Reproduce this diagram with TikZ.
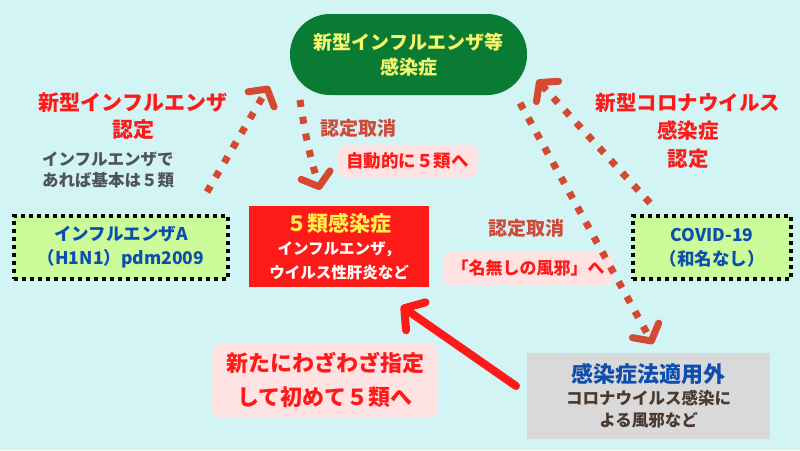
\documentclass[tikz,border=0pt]{standalone}
\usepackage{fontspec}
\setmainfont{Noto Sans CJK JP}
\usepackage{tikz}
\usetikzlibrary{arrows.meta,positioning}
\definecolor{Sky}{HTML}{D2F4F5}
\definecolor{Forest}{HTML}{0A7B32}
\definecolor{Lemon}{HTML}{F6F56B}
\definecolor{Sun}{HTML}{FFF04A}
\definecolor{Alarm}{HTML}{FF1A1A}
\definecolor{Slate}{HTML}{505358}
\definecolor{Navy}{HTML}{0D4EAE}
\definecolor{Lime}{HTML}{CCFC9A}
\definecolor{Blush}{HTML}{FFE3E3}
\definecolor{Brick}{HTML}{D04A3A}
\definecolor{Dots}{HTML}{D4492F}
\definecolor{Fog}{HTML}{D9D9D9}
\definecolor{Umber}{HTML}{4A3A30}
\newcommand{\fsz}[2]{\fontsize{#1}{#2}\selectfont}

\begin{document}
\begin{tikzpicture}[
  x=1pt,y=-1pt,
  every node/.style={font=\bfseries,align=center,inner sep=0pt},
  pill/.style={fill=Forest,text=Lemon,rounded corners=40pt,minimum width=237pt,minimum height=81pt,font=\bfseries\fsz{19}{25}},
  headline/.style={text=Alarm,font=\bfseries\fsz{21}{27.5}},
  revoke/.style={text=Brick,font=\bfseries\fsz{19}{24}},
  note/.style={text=Slate,align=left,font=\bfseries\fsz{16.5}{21}},
  dotbox/.style={fill=Lime,draw=black,line width=4pt,dash pattern=on 4pt off 4pt,text=Navy,minimum width=214pt,minimum height=63pt,font=\bfseries\fsz{17.5}{24}},
  redbox/.style={fill=Alarm,text=white,minimum width=180pt,minimum height=81pt,font=\bfseries\fsz{15.5}{23.5}},
  pinkbox/.style={fill=Blush,text=Alarm,rounded corners=8pt,minimum height=33pt,font=\bfseries\fsz{17.5}{24}},
  graybox/.style={fill=Fog,text=Umber,minimum width=243pt,minimum height=86pt,font=\bfseries\fsz{16.5}{22}},
  dotarr/.style={draw=Dots,line width=7pt,dash pattern=on 7pt off 10pt,-{Straight Barb[length=12pt,width=30pt,round]}},
  bigarr/.style={draw=Alarm,line width=8pt,line cap=round,-{Straight Barb[length=14pt,width=34pt,round]}}
]
\fill[Sky] (0,0) rectangle (800,450);
\useasboundingbox (0,0) rectangle (800,450);

% boxes
\node[pill] (flu) at (408.5,54.5) {新型インフルエンザ等\\感染症};
\node[redbox] (class5) at (339,246.5) {{\fsz{21}{24}\color{Sun}５類感染症}\\インフルエンザ，\\ウイルス性肝炎など};
\node[dotbox] (h1n1) at (121,247.5) {インフルエンザA\\（H1N1）pdm2009};
\node[dotbox,minimum width=158pt] (covid) at (712,247.5) {COVID-19\\（和名なし）};
\node[graybox] (outside) at (648.5,395.5) {{\fsz{22}{28}\color{Navy}感染症法適用外}\\コロナウイルス感染に\\よる風邪など};

% labels
\node[headline] (fluok) at (133,116) {新型インフルエンザ\\認定};
\node[note,anchor=west] (flunote) at (42,170) {インフルエンザで\\あれば基本は５類};
\node[headline,font=\bfseries\fsz{20.5}{28}] (covidok) at (688,131) {新型コロナウイルス\\感染症\\認定};
\node[revoke] (revoke1) at (358,128) {認定取消};
\node[pinkbox,minimum width=141pt] (auto5) at (407.5,161) {自動的に５類へ};
\node[revoke] (revoke2) at (526,228) {認定取消};
\node[pinkbox,minimum width=170pt,font=\bfseries\fsz{17}{24}] (noname) at (528,268.5) {「名無しの風邪」へ};
\node[pinkbox,minimum width=226pt,minimum height=75pt,rounded corners=10pt,font=\bfseries\fsz{22}{34}] (newly) at (325,380) {新たにわざわざ指定\\して初めて５類へ};

% arrows
\coordinate (up1) at (207,192);
\coordinate (up1e) at (269,86);
\coordinate (dn1) at (300,100);
\coordinate (dn1e) at (320,190);
\coordinate (dn2) at (520,103);
\coordinate (dn2e) at (653,344);
\coordinate (up2) at (650,203);
\coordinate (up2e) at (537,80);
\coordinate (back) at (516,386);
\coordinate (backe) at (401,306);
\draw[dotarr] (up1) -- (up1e);
\draw[dotarr] (dn1) to[bend right=4] (dn1e);
\draw[dotarr] (dn2) -- (dn2e);
\draw[dotarr] (up2) -- (up2e);
\draw[bigarr] (back) -- (backe);
\end{tikzpicture}
\end{document}
